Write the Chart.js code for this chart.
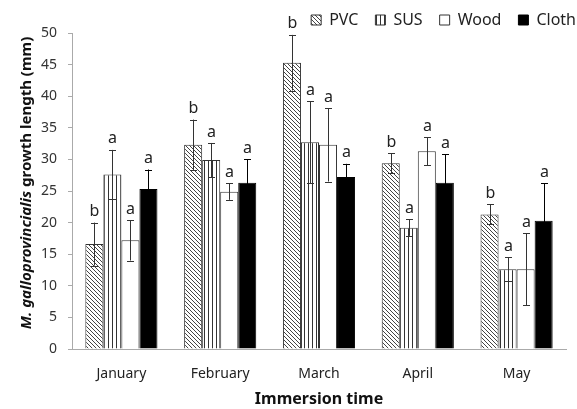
<!DOCTYPE html>
<html>
<head>
<meta charset="utf-8">
<script src="https://cdn.jsdelivr.net/npm/chart.js@4/dist/chart.umd.min.js"></script>
<style>
  html, body { margin: 0; padding: 0; background: #fff; }
  #wrap { width: 577px; height: 409px; }
</style>
</head>
<body>
<div id="wrap"><canvas id="myChart" width="577" height="409"></canvas></div>
<script>
const months = ["January", "February", "March", "April", "May"];
const seriesNames = ["PVC", "SUS", "Wood", "Cloth"];

const pvc = [16.6, 32.3, 45.3, 29.4, 21.3];
const pvcErr = [3.4, 4.0, 4.4, 1.6, 1.6];
const pvcLetters = ["b", "b", "b", "b", "b"];

const sus = [27.6, 29.9, 32.7, 19.2, 12.6];
const susErr = [3.9, 2.7, 6.5, 1.3, 1.9];
const susLetters = ["a", "a", "a", "a", "a"];

const wood = [17.2, 24.9, 32.3, 31.3, 12.6];
const woodErr = [3.2, 1.3, 5.8, 2.2, 5.7];
const woodLetters = ["a", "a", "a", "a", "a"];

const cloth = [25.3, 26.3, 27.2, 26.3, 20.3];
const clothErr = [3.1, 3.7, 2.1, 4.5, 5.9];
const clothLetters = ["a", "a", "a", "a", "a"];

const yTicks = [0, 5, 10, 15, 20, 25, 30, 35, 40, 45, 50];

const FONT = "'Noto Sans', 'DejaVu Sans', sans-serif";

function hatchPattern() {
  const c = document.createElement("canvas");
  c.width = 4; c.height = 4;
  const g = c.getContext("2d");
  g.fillStyle = "#fff";
  g.fillRect(0, 0, 4, 4);
  g.strokeStyle = "#444";
  g.lineWidth = 1;
  g.beginPath();
  g.moveTo(-1, -1); g.lineTo(5, 5);
  g.moveTo(3, -1); g.lineTo(5, 1);
  g.moveTo(-1, 3); g.lineTo(1, 5);
  g.stroke();
  return g.createPattern(c, "repeat");
}

function stripePattern() {
  const c = document.createElement("canvas");
  c.width = 4; c.height = 4;
  const g = c.getContext("2d");
  g.fillStyle = "#fff";
  g.fillRect(0, 0, 4, 4);
  g.fillStyle = "#333";
  g.fillRect(0, 0, 1, 4);
  return g.createPattern(c, "repeat");
}

const errs = [pvcErr, susErr, woodErr, clothErr];
const letters = [pvcLetters, susLetters, woodLetters, clothLetters];

// error bars + significance letters, placed with the y scale
const errorBarPlugin = {
  id: "errorBars",
  afterDatasetsDraw(chart) {
    const ctx = chart.ctx;
    const y = chart.scales.y;
    ctx.save();
    chart.data.datasets.forEach(function (ds, di) {
      const meta = chart.getDatasetMeta(di);
      meta.data.forEach(function (bar, i) {
        const v = ds.data[i];
        const e = errs[di][i];
        const top = y.getPixelForValue(v + e);
        const bot = y.getPixelForValue(v - e);
        const x = Math.round(bar.x) + 0.5;
        ctx.strokeStyle = di === 3 ? "#000" : "#333";
        ctx.lineWidth = 1;
        ctx.beginPath();
        ctx.moveTo(x, top); ctx.lineTo(x, bot);
        ctx.moveTo(x - 3.5, Math.round(top) + 0.5); ctx.lineTo(x + 3.5, Math.round(top) + 0.5);
        ctx.moveTo(x - 3.5, Math.round(bot) + 0.5); ctx.lineTo(x + 3.5, Math.round(bot) + 0.5);
        ctx.stroke();
        ctx.fillStyle = "#222";
        ctx.font = "16px " + FONT;
        ctx.textAlign = "center";
        ctx.textBaseline = "bottom";
        ctx.fillText(letters[di][i], x, top - 3);
      });
    });
    ctx.restore();
  }
};

const yTitlePlugin = {
  id: "yTitle",
  afterDraw(chart) {
    const ctx = chart.ctx;
    ctx.save();
    ctx.translate(27, 183);
    ctx.rotate(-Math.PI / 2);
    ctx.fillStyle = "#111";
    ctx.textBaseline = "middle";
    const part1 = "M. galloprovincialis";
    const part2 = " growth length (mm)";
    ctx.font = "italic bold 15px " + FONT;
    const w1 = ctx.measureText(part1).width;
    ctx.font = "bold 15px " + FONT;
    const w2 = ctx.measureText(part2).width;
    const start = -(w1 + w2) / 2;
    ctx.textAlign = "left";
    ctx.font = "italic bold 15px " + FONT;
    ctx.fillText(part1, start, 0);
    ctx.font = "bold 15px " + FONT;
    ctx.fillText(part2, start + w1, 0);
    ctx.restore();
  }
};

// keep the legend tight above the plot
const legendFitPlugin = {
  id: "legendFit",
  afterInit(chart) {
    const fit = chart.legend.fit;
    chart.legend.fit = function () {
      fit.call(this);
      this.height = 38;
    };
  }
};

const datasets = [
  { label: seriesNames[0], data: pvc, backgroundColor: hatchPattern(), borderColor: "#333", borderWidth: 1 },
  { label: seriesNames[1], data: sus, backgroundColor: stripePattern(), borderColor: "#333", borderWidth: 1 },
  { label: seriesNames[2], data: wood, backgroundColor: "#fff", borderColor: "#333", borderWidth: 1 },
  { label: seriesNames[3], data: cloth, backgroundColor: "#000", borderColor: "#000", borderWidth: 1 }
];

const config = {
  type: "bar",
  data: { labels: months, datasets },
  options: {
    responsive: false,
    animation: false,
    datasets: { bar: { categoryPercentage: 0.73, barPercentage: 1.0 } },
    layout: { padding: { left: 0, right: -16, top: -5, bottom: 0 } },
    plugins: {
      tooltip: { enabled: false },
      legend: {
        position: "top",
        align: "end",
        labels: {
          boxWidth: 10,
          boxHeight: 10,
          padding: 17,
          color: "#222",
          font: { family: FONT, size: 16 }
        }
      }
    },
    scales: {
      x: {
        grid: { display: false },
        border: { display: true, color: "#aaa" },
        ticks: { color: "#222", padding: 9, font: { family: FONT, size: 14 } },
        title: {
          display: true,
          text: "Immersion time",
          color: "#111",
          padding: { top: 0, bottom: 0 },
          font: { family: FONT, size: 16, weight: "bold" }
        },
        afterFit: function (s) { s.height = 60; }
      },
      y: {
        min: 0,
        max: 50,
        afterBuildTicks: function (s) { s.ticks = yTicks.map(function (v) { return { value: v }; }); },
        grid: { display: true, drawOnChartArea: false, tickLength: 4, color: "#aaa" },
        border: { display: true, color: "#aaa" },
        ticks: { color: "#333", padding: 11, font: { family: FONT, size: 14 } },
        afterFit: function (s) { s.width = 72; }
      },
      yR: {
        position: "right",
        display: true,
        grid: { display: false },
        border: { display: false },
        ticks: { display: false },
        afterFit: function (s) { s.width = 27; }
      }
    }
  },
  plugins: [errorBarPlugin, yTitlePlugin, legendFitPlugin]
};

new Chart(document.getElementById("myChart"), config);
</script>
</body>
</html>
